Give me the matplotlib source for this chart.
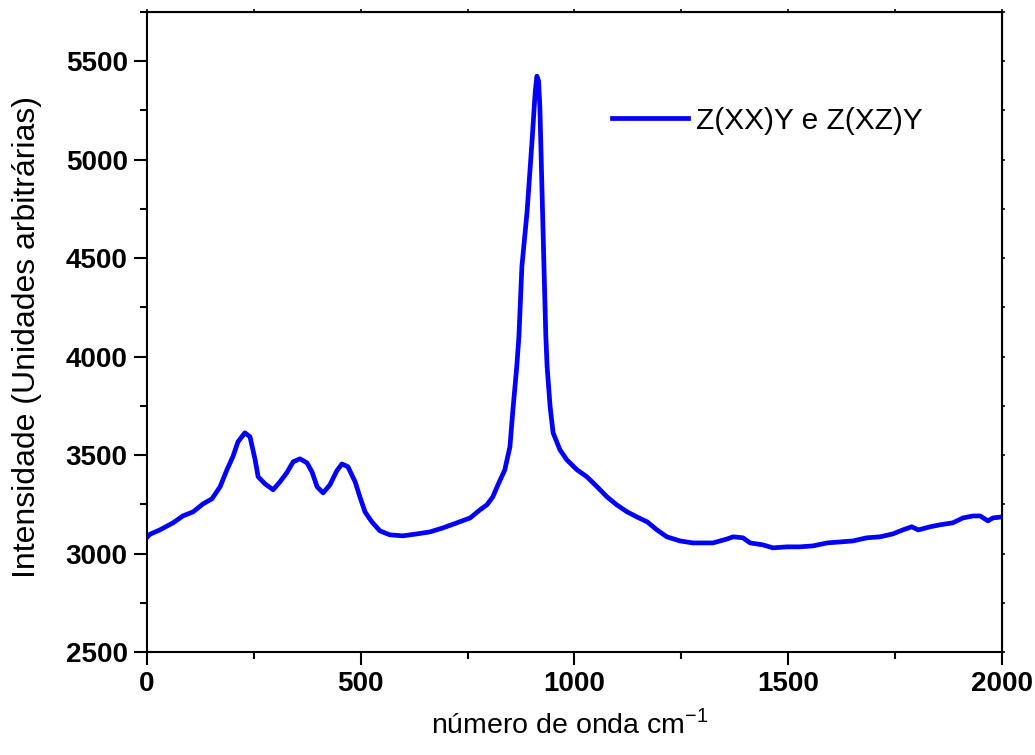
import matplotlib.pyplot as plt
from matplotlib.ticker import MultipleLocator

plt.rcParams['font.family'] = ['Liberation Sans', 'DejaVu Sans']

# Raman spectrum
wavenumber = [0, 7, 30, 61, 84, 108, 131, 152, 171, 187, 201, 213, 229, 241,
              253, 260, 276, 295, 311, 327, 342, 358, 374, 386, 398, 412, 428,
              444, 456, 470, 487, 498, 510, 526, 545, 568, 599, 632, 662, 692,
              725, 756, 779, 795, 809, 821, 837, 849, 856, 865, 870, 877, 889,
              901, 908, 912, 916, 919, 924, 929, 933, 936, 943, 950, 966, 982,
              1006, 1029, 1053, 1076, 1099, 1123, 1146, 1170, 1193, 1216, 1247,
              1277, 1324, 1357, 1371, 1394, 1411, 1441, 1464, 1497, 1527, 1558,
              1591, 1621, 1651, 1684, 1715, 1745, 1768, 1789, 1804, 1832, 1855,
              1885, 1909, 1932, 1949, 1967, 1979, 2000]
intensity = [3082, 3098, 3120, 3156, 3191, 3212, 3252, 3278, 3339, 3425, 3492,
             3568, 3613, 3593, 3476, 3390, 3354, 3324, 3364, 3410, 3466, 3481,
             3461, 3415, 3339, 3308, 3349, 3420, 3455, 3441, 3364, 3288, 3212,
             3161, 3115, 3095, 3090, 3100, 3110, 3130, 3156, 3181, 3222, 3247,
             3288, 3349, 3425, 3542, 3730, 3949, 4102, 4458, 4732, 5103, 5340,
             5424, 5400, 5271, 4849, 4427, 4102, 3949, 3746, 3613, 3527, 3476,
             3425, 3390, 3339, 3288, 3247, 3212, 3186, 3161, 3120, 3085, 3064,
             3054, 3054, 3074, 3085, 3080, 3054, 3044, 3029, 3034, 3034, 3039,
             3054, 3059, 3064, 3080, 3085, 3100, 3120, 3136, 3120, 3136, 3146,
             3156, 3181, 3191, 3191, 3166, 3181, 3186]
series_label = 'Z(XX)Y e Z(XZ)Y'

fig = plt.figure(figsize=(10.35, 7.55), dpi=100)
ax = fig.add_axes([0.1420, 0.1364, 0.8261, 0.8477])

ax.plot(wavenumber, intensity, color='#0000ff', lw=3.4,
        solid_joinstyle='round', label=series_label)

ax.set_xlim(0, 2000)
ax.set_ylim(2500, 5750)
ax.xaxis.set_major_locator(MultipleLocator(500))
ax.xaxis.set_minor_locator(MultipleLocator(250))
ax.yaxis.set_major_locator(MultipleLocator(500))
ax.yaxis.set_minor_locator(MultipleLocator(250))

for s in ax.spines.values():
    s.set_linewidth(1.5)
ax.tick_params(which='major', direction='out', length=9.4, width=1.5,
               labelsize=20, pad=4.5)
ax.tick_params(which='minor', direction='out', length=5, width=1.5)
for lab in ax.get_xticklabels() + ax.get_yticklabels():
    lab.set_fontweight('bold')

# little ticks on top and right like Origin does
top = ax.secondary_xaxis('top')
top.xaxis.set_major_locator(MultipleLocator(250))
top.tick_params(length=2, width=1.2, labeltop=False)
right = ax.secondary_yaxis('right')
right.yaxis.set_major_locator(MultipleLocator(250))
right.tick_params(length=2, width=1.2, labelright=False)

ax.set_xlabel('número de onda cm$^{\\mathregular{-1}}$', fontsize=20.5)
ax.set_ylabel('Intensidade (Unidades arbitrárias)', fontsize=23)
ax.xaxis.set_label_coords(0.494, -0.089)
ax.yaxis.set_label_coords(-0.123, 0.492)

ax.legend(loc='center left', bbox_to_anchor=(0.544, 0.830), frameon=False,
          fontsize=21.5, handlelength=2.54, handletextpad=0.27,
          borderpad=0, borderaxespad=0)

fig.savefig('out.png', dpi=100)
